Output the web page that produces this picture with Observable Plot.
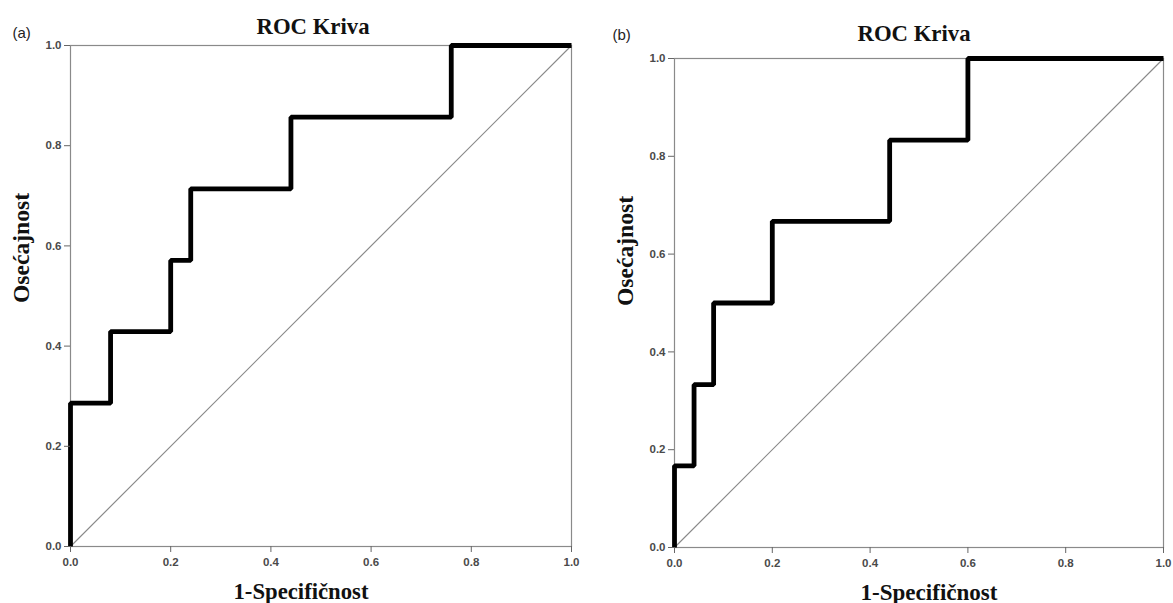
<!DOCTYPE html>
<html>
<head>
<meta charset="utf-8">
<script src="https://cdn.jsdelivr.net/npm/d3@7"></script>
<script src="https://cdn.jsdelivr.net/npm/@observablehq/plot@0.6"></script>
<style>
  body { margin: 0; background: #fff; }
  #wrap { position: relative; width: 1173px; height: 603px; overflow: hidden; background: #fff; }
  .panel { position: absolute; top: 0; }
  g[aria-label="x-axis tick label"] text, g[aria-label="y-axis tick label"] text {
    font: bold 11.5px "Liberation Sans", Arial, sans-serif; fill: #4a4a4a;
  }
</style>
</head>
<body>
<div id="wrap"></div>
<script>
// Panel (a) ROC curve
const fprA = [0, 0, 0.08, 0.08, 0.20, 0.20, 0.24, 0.24, 0.44, 0.44, 0.76, 0.76, 1.0];
const tprA = [0, 0.286, 0.286, 0.429, 0.429, 0.571, 0.571, 0.714, 0.714, 0.857, 0.857, 1.0, 1.0];
// Panel (b) ROC curve
const fprB = [0, 0, 0.04, 0.04, 0.08, 0.08, 0.20, 0.20, 0.44, 0.44, 0.60, 0.60, 1.0];
const tprB = [0, 0.167, 0.167, 0.333, 0.333, 0.5, 0.5, 0.667, 0.667, 0.833, 0.833, 1.0, 1.0];
// Reference diagonal
const diagX = [0, 1];
const diagY = [0, 1];
// Ticks
const tickValues = [0, 0.2, 0.4, 0.6, 0.8, 1.0];
const panelTitles = ["ROC Kriva", "ROC Kriva"];
const panelTags = ["(a)", "(b)"];
const xLabel = "1-Specifičnost";
const yLabel = "Osećajnost";

const toRows = (xs, ys) => xs.map((x, i) => ({x, y: ys[i]}));
const serif = '"Liberation Serif", "DejaVu Serif", serif';

function makePanel(rows, o, i) {
  const svg = Plot.plot({
    width: o.width, height: 603,
    marginLeft: o.ml, marginRight: o.mr, marginTop: o.mt, marginBottom: o.mb,
    x: {domain: [0, 1]},
    y: {domain: [0, 1]},
    style: {background: "transparent", overflow: "visible"},
    marks: [
      Plot.frame({stroke: "#8a8a8a", strokeWidth: 1.2}),
      Plot.line(toRows(diagX, diagY), {x: "x", y: "y", stroke: "#8a8a8a", strokeWidth: 1.2}),
      Plot.line(rows, {x: "x", y: "y", stroke: "#000", strokeWidth: 4.8, strokeLinejoin: "miter", strokeLinecap: "butt"}),
      Plot.axisX({ticks: tickValues, tickFormat: d3.format(".1f"), tickSize: 6, tickPadding: 5, stroke: "#666", label: null}),
      Plot.axisY({ticks: tickValues, tickFormat: d3.format(".1f"), tickSize: 6, tickPadding: 3, stroke: "#666", label: null}),
      // axis titles
      Plot.text([xLabel], {frameAnchor: "bottom", lineAnchor: "bottom", dx: o.xlDx, dy: o.xlDy,
        fontSize: 24, fontWeight: "bold", fontFamily: serif, fill: "#111"}),
      Plot.text([yLabel], {frameAnchor: "left", rotate: -90, lineAnchor: "middle", dx: o.ylDx, dy: o.ylDy,
        fontSize: 24, fontWeight: "bold", fontFamily: serif, fill: "#111"}),
      // panel title and tag
      Plot.text([panelTitles[i]], {frameAnchor: "top", lineAnchor: "bottom", dx: o.tDx, dy: o.tDy,
        fontSize: 24, fontWeight: "bold", fontFamily: serif, fill: "#111"}),
      Plot.text([panelTags[i]], {frameAnchor: "top-left", textAnchor: "start", lineAnchor: "bottom", dx: o.gDx, dy: o.gDy,
        fontSize: 15, fontFamily: '"Liberation Sans", Arial, sans-serif', fill: "#222"})
    ]
  });
  d3.select(svg).selectAll("text").each(function() {
    const t = this.textContent;
    const len = t === xLabel ? o.xlLen : t === yLabel ? o.ylLen : t === panelTitles[i] ? o.tLen : null;
    if (len) this.setAttribute("textLength", len), this.setAttribute("lengthAdjust", "spacingAndGlyphs");
  });
  return svg;
}

const wrap = document.getElementById("wrap");
const panels = [
  {rows: toRows(fprA, tprA), left: 0, width: 600, ml: 70, mr: 29, mt: 45, mb: 57,
   xlDx: -20, xlDy: 52, xlLen: 135, ylDx: -49, ylDy: 7, ylLen: 110, tDx: -8, tDy: -12, tLen: 113, gDx: -58, gDy: -8},
  {rows: toRows(fprB, tprB), left: 603, width: 570, ml: 71, mr: 10, mt: 58, mb: 56,
   xlDx: 10, xlDy: 52, xlLen: 137, ylDx: -49, ylDy: 3, ylLen: 110, tDx: -5, tDy: -18, tLen: 113, gDx: -62, gDy: -19}
];
panels.forEach((p, i) => {
  const div = document.createElement("div");
  div.className = "panel";
  div.style.left = p.left + "px";
  div.appendChild(makePanel(p.rows, p, i));
  wrap.appendChild(div);
});
</script>
</body>
</html>
